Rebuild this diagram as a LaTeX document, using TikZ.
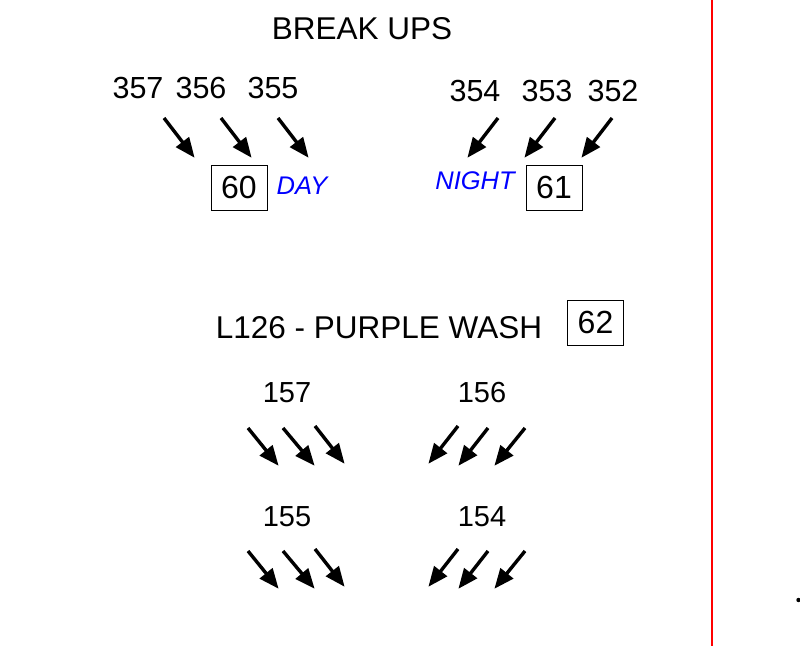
\documentclass[tikz,border=0pt]{standalone}
\usepackage{fontspec}
\setmainfont{Liberation Sans}
\usetikzlibrary{arrows.meta}
\tikzset{
  lbl/.style={inner sep=0pt, font=\fontsize{31.5}{36}\selectfont},
  numa/.style={inner sep=0pt, font=\fontsize{30.5}{36}\selectfont},
  numb/.style={inner sep=0pt, font=\fontsize{29}{34}\selectfont},
  tag/.style={inner sep=0pt, text=blue, font=\fontsize{25.5}{30}\selectfont\itshape},
  numbox/.style={draw, line width=0.8pt, minimum width=56pt, minimum height=45pt, inner sep=0pt, font=\fontsize{32}{36}\selectfont},
  arr/.style={line width=3.4pt, -{Triangle[length=20pt,width=16pt]}, shorten >=-1pt},
  redline/.style={draw=red, line width=2pt}
}
\begin{document}
\begin{tikzpicture}[x=1pt,y=-1pt]
\useasboundingbox (0,0) rectangle (800,646);
% title
\node[lbl] (title) at (362,29) {BREAK UPS};
% day group
\node[numa] (n357) at (138,88) {357};
\node[numa] (n356) at (201,88) {356};
\node[numa] (n355) at (273,88) {355};
\node[numbox] (b60) at (239,187.5) {60};
\node[tag] (day) at (302,186) {DAY};
\coordinate (a1s) at (164,118); \coordinate (a1e) at (194,157);
\coordinate (a2s) at (221,118); \coordinate (a2e) at (251,157);
\coordinate (a3s) at (278,118); \coordinate (a3e) at (308,157);
\draw[arr] (a1s) -- (a1e);
\draw[arr] (a2s) -- (a2e);
\draw[arr] (a3s) -- (a3e);
% night group
\node[numa] (n354) at (475,91) {354};
\node[numa] (n353) at (547,91) {353};
\node[numa] (n352) at (613,91) {352};
\node[numbox] (b61) at (554,187.5) {61};
\node[tag] (night) at (475,181) {NIGHT};
\coordinate (b1s) at (498,118); \coordinate (b1e) at (468,157);
\coordinate (b2s) at (555,118); \coordinate (b2e) at (525,157);
\coordinate (b3s) at (612,118); \coordinate (b3e) at (582,157);
\draw[arr] (b1s) -- (b1e);
\draw[arr] (b2s) -- (b2e);
\draw[arr] (b3s) -- (b3e);
% purple wash
\node[lbl] (wash) at (379,328) {L126 - PURPLE WASH};
\node[numbox] (b62) at (595.5,322.5) {62};
\node[numb] (n157) at (287,393) {157};
\node[numb] (n156) at (482,393) {156};
\node[numb] (n155) at (287,517) {155};
\node[numb] (n154) at (482,517) {154};
\foreach \dy [count=\r] in {0,123}{
  \coordinate (c1s\r) at (248,428+\dy); \coordinate (c1e\r) at (278,465+\dy);
  \coordinate (c2s\r) at (283,428+\dy); \coordinate (c2e\r) at (314,465+\dy);
  \coordinate (c3s\r) at (315,426+\dy); \coordinate (c3e\r) at (344,463+\dy);
  \draw[arr] (c1s\r) -- (c1e\r);
  \draw[arr] (c2s\r) -- (c2e\r);
  \draw[arr] (c3s\r) -- (c3e\r);
  \coordinate (d1s\r) at (458,426+\dy); \coordinate (d1e\r) at (429,463+\dy);
  \coordinate (d2s\r) at (488,428+\dy); \coordinate (d2e\r) at (459,465+\dy);
  \coordinate (d3s\r) at (525,428+\dy); \coordinate (d3e\r) at (495,465+\dy);
  \draw[arr] (d1s\r) -- (d1e\r);
  \draw[arr] (d2s\r) -- (d2e\r);
  \draw[arr] (d3s\r) -- (d3e\r);
}
% red divider
\coordinate (rtop) at (712,0); \coordinate (rbot) at (712,646);
\draw[redline] (rtop) -- (rbot);
\coordinate (dot) at (798.5,600);
\fill (dot) circle (2.2);
\end{tikzpicture}
\end{document}
